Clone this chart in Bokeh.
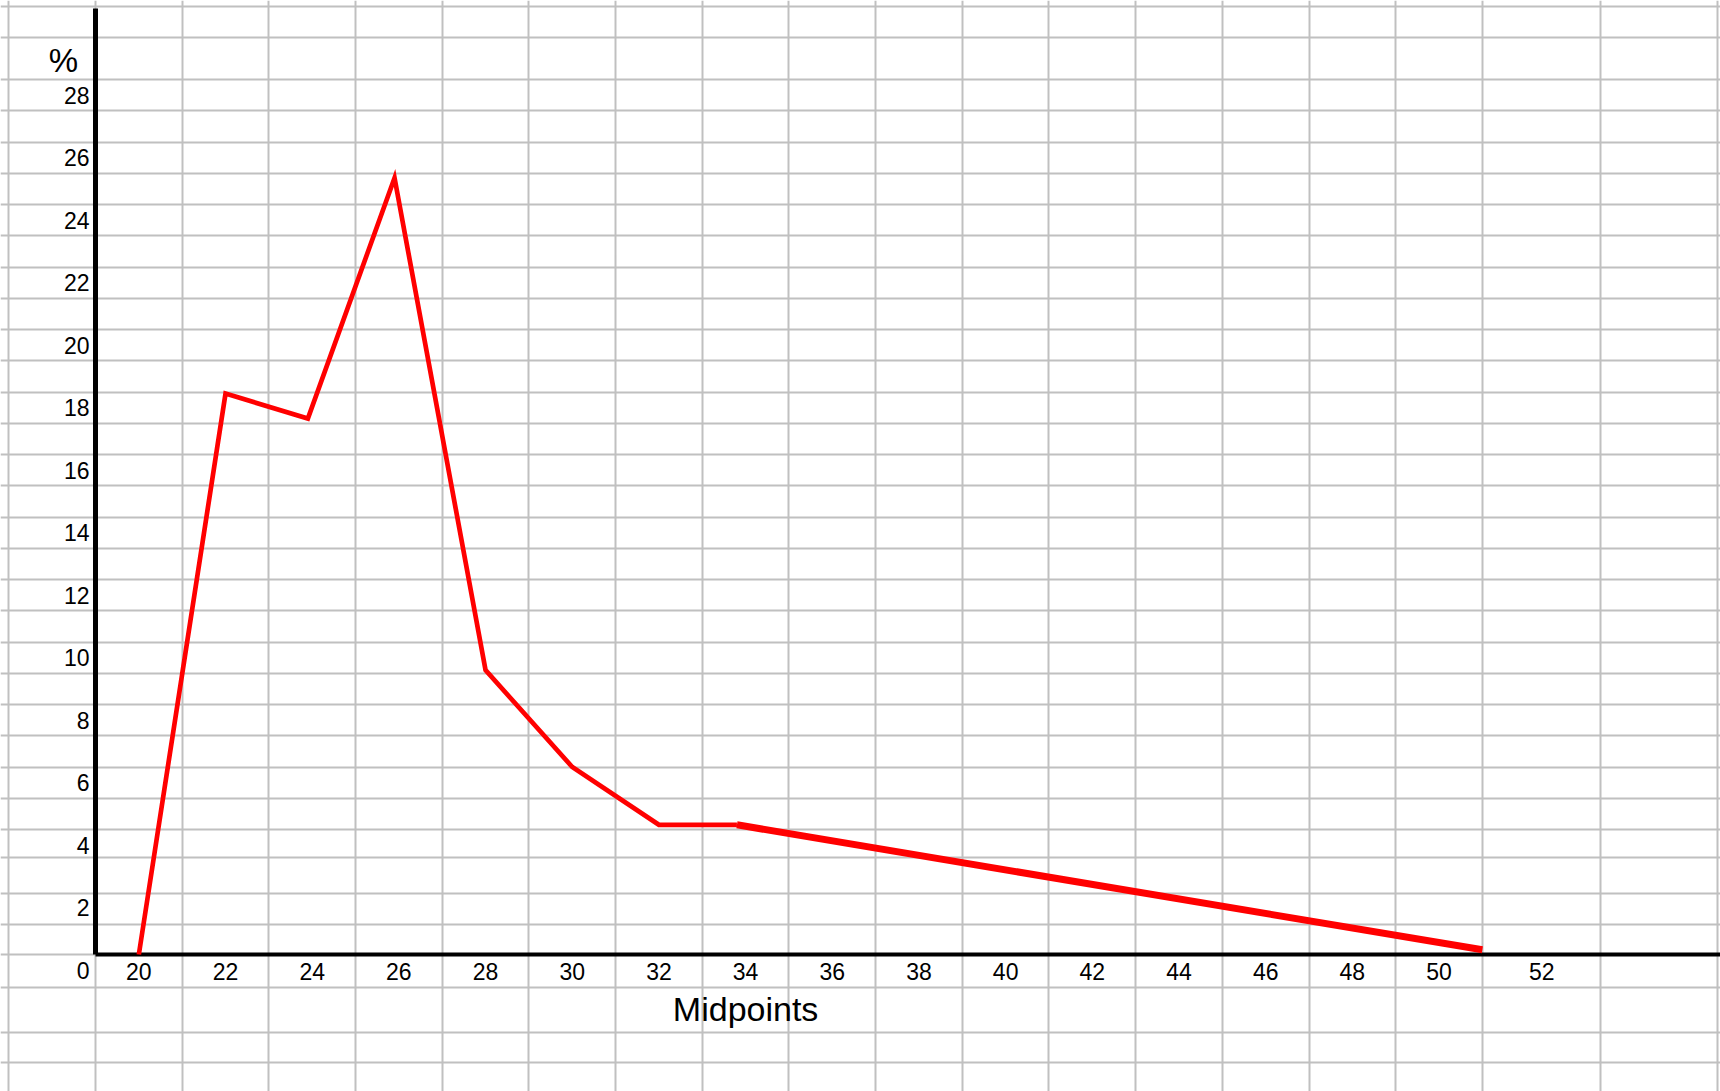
from bokeh.plotting import figure
from bokeh.models import LinearAxis, FixedTicker, Range1d
from bokeh.embed import file_html
from bokeh.resources import INLINE
from bokeh.core.properties import value

# ---- data ----
midpoints = [20, 22, 23.9, 25.9, 28, 30, 32, 33.8]
percent = [0, 17.95, 17.15, 24.85, 9.1, 6.0, 4.15, 4.15]
tail_midpoints = [33.8, 51.0]
tail_percent = [4.15, 0.15]

x_tick_labels = ["20", "22", "24", "26", "28", "30", "32", "34", "36", "38",
                 "40", "42", "44", "46", "48", "50", "52"]
x_tick_positions = [20, 22, 24, 26, 28, 30, 32, 34, 36, 38,
                    40, 42, 44, 46, 48, 50, 52.37]
y_tick_values = [0, 2, 4, 6, 8, 10, 12, 14, 16, 18, 20, 22, 24, 26, 28]

# spreadsheet cell boundaries (background "graph paper")
col_lines = [17, 19, 21, 23, 25, 27, 29, 31, 33, 35, 37, 39, 41, 43, 45, 47,
             49, 51, 53.72, 56.42]
row_lines = [30.35, 29.35, 28, 27, 26, 25, 24, 23, 22, 21, 20, 19, 18, 17, 16,
             15, 14, 13, 12, 11, 10, 9, 8, 7, 6, 5, 4, 3.1, 1.95, 0.95, 0,
             -1.05, -2.5, -3.45]

X0, X1 = 16.808, 56.494
Y0, Y1 = -4.384, 30.528
Y_AXIS_X = 19.0
Y_AXIS_TOP = 30.27
FONT = "Liberation Sans"

p = figure(width=1720, height=1091, x_range=Range1d(X0, X1), y_range=Range1d(Y0, Y1),
           output_backend="svg", toolbar_location=None,
           x_axis_location=None, y_axis_location=None,
           min_border=0, min_border_left=0, min_border_right=0,
           min_border_top=0, min_border_bottom=0,
           outline_line_color=None, background_fill_color="white",
           border_fill_color="white")

# grid
p.xgrid.ticker = FixedTicker(ticks=col_lines)
p.ygrid.ticker = FixedTicker(ticks=row_lines)
for g in (p.xgrid, p.ygrid):
    g.grid_line_color = "#c0c0c0"
    g.grid_line_width = 2
    g.grid_line_alpha = 1.0

# axes (labels only, placed inside the frame)
yaxis = LinearAxis(fixed_location=Y_AXIS_X,
                   ticker=FixedTicker(ticks=[v - 0.5 for v in y_tick_values]),
                   major_label_overrides={v - 0.5: str(v) for v in y_tick_values},
                   axis_line_color=None, major_tick_line_color=None,
                   minor_tick_line_color=None,
                   major_label_text_font=FONT, major_label_text_font_size="23px",
                   major_label_text_color="black", major_label_standoff=0)
p.add_layout(yaxis, "left")

xaxis = LinearAxis(fixed_location=0,
                   ticker=FixedTicker(ticks=x_tick_positions),
                   major_label_overrides=dict(zip(x_tick_positions, x_tick_labels)),
                   axis_line_color=None, major_tick_line_color=None,
                   minor_tick_line_color=None,
                   major_label_text_font=FONT, major_label_text_font_size="23px",
                   major_label_text_color="black", major_label_standoff=2)
p.add_layout(xaxis, "below")

# black axis lines
p.segment(x0=[Y_AXIS_X], y0=[0], x1=[Y_AXIS_X], y1=[Y_AXIS_TOP],
          line_color="black", line_width=5)
p.segment(x0=[Y_AXIS_X], y0=[0], x1=[X1], y1=[0],
          line_color="black", line_width=4)

# data line
p.line(midpoints, percent, line_color="#ff0000", line_width=4.7, line_join="miter")
p.line(tail_midpoints, tail_percent, line_color="#ff0000", line_width=7)

# labels
p.text(x=[18.26], y=[28.61], text=["%"], text_font=value(FONT), text_font_size="33px",
       text_align="center", text_baseline="alphabetic", text_color="black")
p.text(x=[34.0], y=[-1.73], text=["Midpoints"], text_font=value(FONT),
       text_font_size="34px", text_align="center", text_baseline="alphabetic",
       text_color="black")

open("out.html", "w").write(file_html(p, INLINE))
